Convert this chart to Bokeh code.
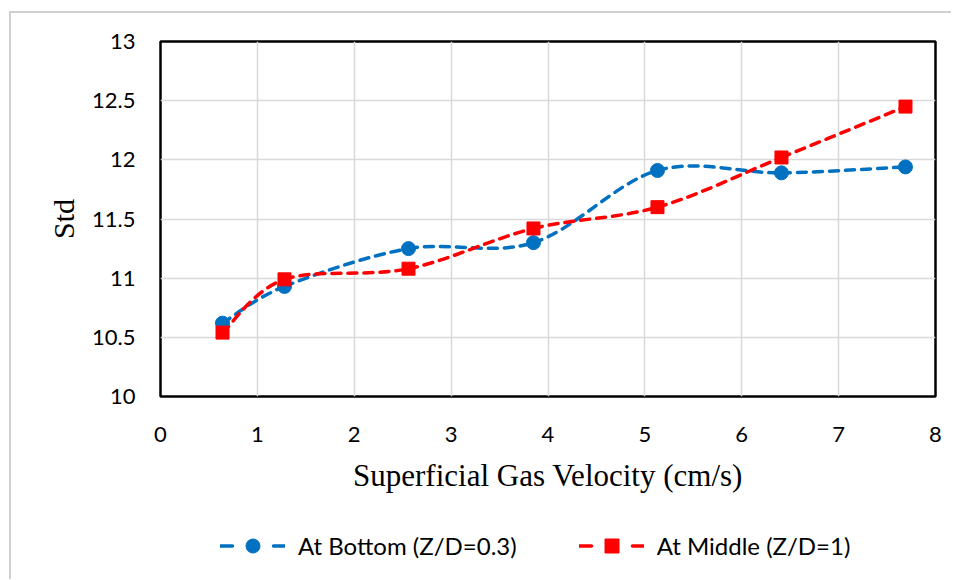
from bokeh.plotting import figure
from bokeh.layouts import column
from bokeh.models import ColumnDataSource, Legend, LegendItem, FixedTicker, Range1d
from bokeh.embed import file_html
from bokeh.resources import INLINE

# ---- data ----
velocity = [0.64, 1.28, 2.56, 3.85, 5.13, 6.41, 7.69]
std_bottom = [10.62, 10.93, 11.25, 11.30, 11.91, 11.89, 11.94]
std_middle = [10.54, 10.99, 11.08, 11.42, 11.60, 12.02, 12.45]
series_names = ["At Bottom (Z/D=0.3)", "At Middle (Z/D=1)"]
x_ticks = [0, 1, 2, 3, 4, 5, 6, 7, 8]
y_ticks = [10, 10.5, 11, 11.5, 12, 12.5, 13]
y_tick_labels = ["10", "10.5", "11", "11.5", "12", "12.5", "13"]
x_title = "Superficial Gas Velocity (cm/s)"
y_title = "Std"

BLUE = "#0070C0"
RED = "#FF0000"


def smooth_segments(xs, ys):
    """Excel-like smoothed line: Catmull-Rom control points for Bezier segments."""
    n = len(xs)
    pts = list(zip(xs, ys))
    d = dict(x0=[], y0=[], x1=[], y1=[], cx0=[], cy0=[], cx1=[], cy1=[])
    for i in range(n - 1):
        p0 = pts[max(i - 1, 0)]
        p1 = pts[i]
        p2 = pts[i + 1]
        p3 = pts[min(i + 2, n - 1)]
        d["x0"].append(p1[0]); d["y0"].append(p1[1])
        d["x1"].append(p2[0]); d["y1"].append(p2[1])
        d["cx0"].append(p1[0] + (p2[0] - p0[0]) / 6.0)
        d["cy0"].append(p1[1] + (p2[1] - p0[1]) / 6.0)
        d["cx1"].append(p2[0] - (p3[0] - p1[0]) / 6.0)
        d["cy1"].append(p2[1] - (p3[1] - p1[1]) / 6.0)
    return ColumnDataSource(d)


p = figure(width=940, height=498,
           x_range=Range1d(0, 8), y_range=Range1d(10, 13),
           output_backend="svg", toolbar_location=None,
           min_border_left=149, min_border_right=16,
           min_border_top=28, min_border_bottom=115)

p.background_fill_color = "white"
p.border_fill_color = "white"
p.outline_line_color = "black"
p.outline_line_width = 2.5

p.xgrid.grid_line_color = "#D9D9D9"
p.ygrid.grid_line_color = "#D9D9D9"
p.xgrid.grid_line_width = 1.5
p.ygrid.grid_line_width = 1.5

p.xaxis.ticker = FixedTicker(ticks=x_ticks)
p.yaxis.ticker = FixedTicker(ticks=y_ticks)
p.yaxis.major_label_overrides = {t: s for t, s in zip(y_ticks, y_tick_labels)}
p.xaxis.major_label_overrides = {t: str(t) for t in x_ticks}

for ax in (p.xaxis, p.yaxis):
    ax.axis_line_color = None
    ax.major_tick_line_color = None
    ax.minor_tick_line_color = None
    ax.major_tick_out = 0
    ax.major_tick_in = 0
    ax.major_label_text_font = "Lato"
    ax.major_label_text_font_size = "22px"
    ax.major_label_text_color = "black"
    ax.axis_label_text_font = "Liberation Serif"
    ax.axis_label_text_font_style = "normal"
    ax.axis_label_text_color = "black"
    ax.axis_label_text_font_size = "30px"

p.xaxis.axis_label_text_font_size = "31px"
p.xaxis.major_label_standoff = 30
p.yaxis.major_label_standoff = 25
p.xaxis.axis_label = x_title
p.yaxis.axis_label = y_title
p.xaxis.axis_label_standoff = 13
p.yaxis.axis_label_standoff = 9

LW = 3.5
DASH = "9 7"

for ys, color in ((std_bottom, BLUE), (std_middle, RED)):
    p.bezier(x0="x0", y0="y0", x1="x1", y1="y1", cx0="cx0", cy0="cy0",
             cx1="cx1", cy1="cy1", source=smooth_segments(velocity, ys),
             line_color=color, line_width=LW, line_dash=DASH, line_cap="round")

for ys, color, marker, size in ((std_bottom, BLUE, "circle", 14),
                               (std_middle, RED, "square", 13)):
    p.scatter(velocity, ys, marker=marker, size=size, fill_color=color,
              line_color=color)

# ---- legend strip below the chart (its frame is aligned with the chart's) ----
p2 = figure(width=940, height=68, output_backend="svg", toolbar_location=None,
            min_border=0, x_range=Range1d(0, 8), y_range=Range1d(0, 1))
p2.axis.visible = False
p2.grid.visible = False
p2.outline_line_color = None
p2.background_fill_color = "white"
p2.border_fill_color = "white"

items = []
for name, ys, color, marker, size in ((series_names[0], std_bottom, BLUE, "circle", 14),
                                      (series_names[1], std_middle, RED, "square", 13)):
    # proxies for the legend: the series' values lie outside this strip's y range
    lr = p2.line(x=velocity, y=ys, line_color=color, line_width=LW,
                 line_dash="12 41", line_cap="round")
    sr = p2.scatter(x=velocity, y=ys, marker=marker, size=size,
                    fill_color=color, line_color=color)
    items.append(LegendItem(label=name, renderers=[lr, sr]))

leg = Legend(items=items, location=(60, 16), orientation="horizontal",
             glyph_width=65, glyph_height=35, label_standoff=13, spacing=62,
             padding=0, margin=0, border_line_color=None,
             background_fill_alpha=0,
             label_text_font="Lato", label_text_font_size="24px",
             label_text_color="black")
p2.add_layout(leg, "center")

layout = column(p, p2, spacing=0)
layout.styles = {"border-left": "2px solid #d0d0d0", "border-top": "2px solid #d0d0d0",
                 "margin-top": "11px", "margin-left": "9px"}

open("out.html", "w").write(file_html(layout, INLINE))
